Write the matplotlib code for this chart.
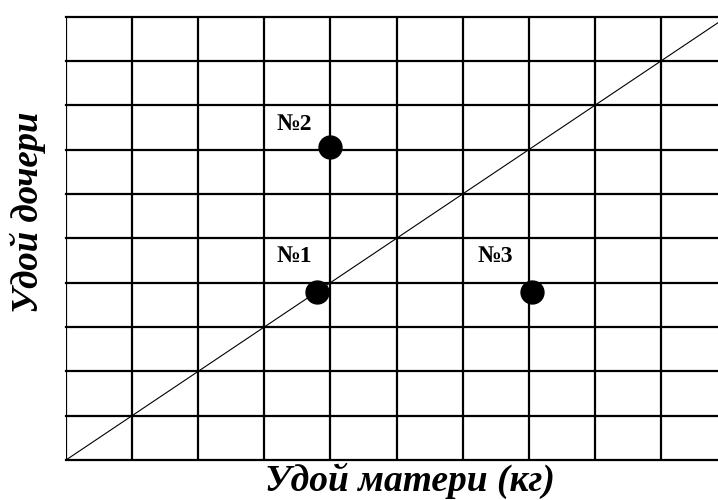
import matplotlib
matplotlib.use("Agg")
import matplotlib.pyplot as plt
import numpy as np

# Data (in grid-cell units)
point_labels = ["№1", "№2", "№3"]
mother_yield = [3.8, 4.0, 7.05]
daughter_yield = [3.8, 7.05, 3.8]
label_x = [3.46, 3.46, 6.49]
label_y = [4.59, 7.56, 4.59]
x_grid = list(range(0, 10))
y_grid = list(range(0, 11))
xlabel = "Удой матери (кг)"
ylabel = "Удой дочери"

serif = ["Liberation Serif", "DejaVu Serif"]

fig = plt.figure(figsize=(7.18, 5.0), dpi=100)
W, H = 718, 500
left, right, top, bottom = 66, 718, 16.7, 460
ax = fig.add_axes([left / W, (H - bottom) / H, (right - left) / W, (bottom - top) / H])

xmax = (right - left) / 66.1
ax.set_xlim(0, xmax)
ax.set_ylim(0, 10)

for xv in x_grid:
    ax.axvline(xv, color="black", lw=1.6, zorder=1)
for yv in y_grid:
    ax.axhline(yv, color="black", lw=1.6, zorder=1, clip_on=False)

d = np.array([0, xmax])
ax.plot(d, d, color="black", lw=0.8, zorder=2)

ax.plot(mother_yield, daughter_yield, "o", color="black", markersize=16.5, zorder=3)
for t, tx, ty in zip(point_labels, label_x, label_y):
    ax.text(tx, ty, t, ha="center", va="center", fontsize=17, fontweight="bold",
            family=serif, zorder=4)

for s in ax.spines.values():
    s.set_visible(False)
ax.set_xticks([])
ax.set_yticks([])

fig.text(410 / W, 1 - 481 / H, xlabel, ha="center", va="center", fontsize=27,
         fontweight="bold", fontstyle="italic", family=serif)
fig.text(28 / W, 1 - 212 / H, ylabel, ha="center", va="center", fontsize=26.5,
         fontweight="bold", fontstyle="italic", family=serif, rotation=90)

fig.savefig("out.png", dpi=100)
